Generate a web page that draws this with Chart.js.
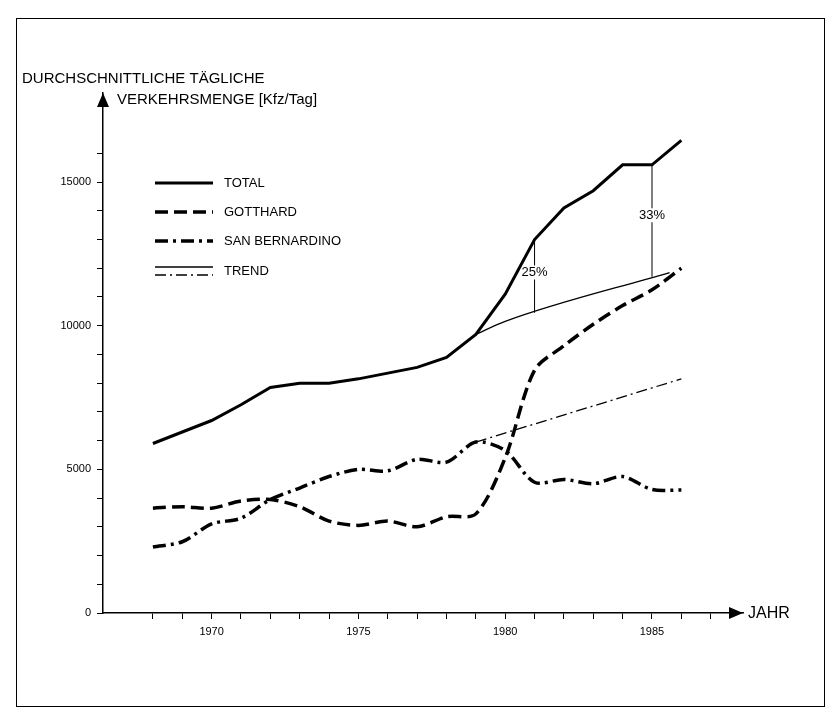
<!DOCTYPE html>
<html>
<head>
<meta charset="utf-8">
<script src="https://cdn.jsdelivr.net/npm/chart.js@4.4.1/dist/chart.umd.min.js"></script>
<style>
  html, body { margin: 0; padding: 0; background: #fff; }
  canvas { display: block; }
</style>
</head>
<body>
<canvas id="chart" width="828" height="712"></canvas>
<script>
// values
const years = [1968, 1969, 1970, 1971, 1972, 1973, 1974, 1975, 1976, 1977,
               1978, 1979, 1980, 1981, 1982, 1983, 1984, 1985, 1986];
const total = [5900, 6300, 6700, 7250, 7850, 8000, 8000, 8150, 8350, 8550,
               8900, 9700, 11100, 13000, 14100, 14700, 15600, 15600, 16450];
const gotthard = [3650, 3700, 3650, 3900, 3950, 3700, 3200, 3050, 3200, 3000,
                  3350, 3450, 5400, 8450, 9300, 10050, 10700, 11250, 12000];
const sanBernardino = [2300, 2480, 3100, 3300, 3950, 4350, 4750, 5000, 4950, 5350,
                       5250, 5950, 5650, 4550, 4650, 4500, 4750, 4300, 4280];
const trendTotalYears = [1979, 1980, 1985.6];
const trendTotal = [9700, 10150, 11850];
const trendSBYears = [1979, 1986];
const trendSB = [5950, 8150];
const pctYears = [1981, 1985];
const pctLow = [10450, 11700];   // trend value at that year
const pctLabels = ['25%', '33%'];
const legendLabels = ['TOTAL', 'GOTTHARD', 'SAN BERNARDINO', 'TREND'];
const titleLines = ['DURCHSCHNITTLICHE TÄGLICHE', 'VERKEHRSMENGE [Kfz/Tag]'];
const xAxisTitle = 'JAHR';

const pts = (xs, ys) => xs.map((x, i) => ({x: x, y: ys[i]}));
const pctData = [];
pctYears.forEach((yr, i) => {
  pctData.push({x: yr, y: pctLow[i]}, {x: yr, y: total[years.indexOf(yr)]}, {x: yr, y: null});
});

const FONT = "'Liberation Sans', Arial, sans-serif";

const decor = {
  id: 'decor',
  afterDraw(chart) {
    const {ctx, chartArea, scales} = chart;
    ctx.save();
    // frame of the scanned page
    ctx.strokeStyle = '#000';
    ctx.lineWidth = 1;
    ctx.strokeRect(16.5, 18.5, 808, 688);

    // axis arrows
    ctx.fillStyle = '#000';
    const l = chartArea.left, b = chartArea.bottom;
    ctx.beginPath();
    ctx.moveTo(l, chartArea.top);
    ctx.lineTo(l - 6, chartArea.top + 14);
    ctx.lineTo(l + 6, chartArea.top + 14);
    ctx.closePath();
    ctx.fill();
    ctx.beginPath();
    ctx.moveTo(chartArea.right, b);
    ctx.lineTo(chartArea.right - 14, b - 6);
    ctx.lineTo(chartArea.right - 14, b + 6);
    ctx.closePath();
    ctx.fill();

    // axis titles
    ctx.font = '15px ' + FONT;
    ctx.textBaseline = 'alphabetic';
    ctx.textAlign = 'left';
    ctx.fillText(titleLines[0], 22, 83);
    ctx.fillText(titleLines[1], l + 14, 104);
    ctx.font = '16px ' + FONT;
    ctx.textBaseline = 'middle';
    ctx.fillText(xAxisTitle, chartArea.right + 5, b + 1);

    // percentage labels next to the vertical gap lines
    ctx.font = '13px ' + FONT;
    ctx.textAlign = 'center';
    pctYears.forEach((yr, i) => {
      const x = scales.x.getPixelForValue(yr);
      const yTop = scales.y.getPixelForValue(total[years.indexOf(yr)]);
      const yBot = scales.y.getPixelForValue(pctLow[i]);
      const ym = yTop + (yBot - yTop) * 0.45;
      ctx.fillStyle = '#fff';
      ctx.fillRect(x - 12, ym - 7, 24, 14);
      ctx.fillStyle = '#000';
      ctx.fillText(pctLabels[i], x, ym);
    });

    // legend
    const ds = chart.data.datasets;
    const lx0 = 155, lx1 = 213, tx = 224;
    const rows = [183, 212, 241, 271];
    ctx.textAlign = 'left';
    ctx.font = '13px ' + FONT;
    [0, 1, 2].forEach(i => {
      ctx.strokeStyle = '#000';
      ctx.lineWidth = ds[i].borderWidth;
      ctx.setLineDash(ds[i].borderDash || []);
      ctx.beginPath();
      ctx.moveTo(lx0, rows[i]);
      ctx.lineTo(lx1, rows[i]);
      ctx.stroke();
      ctx.setLineDash([]);
      ctx.fillText(legendLabels[i], tx, rows[i]);
    });
    ctx.lineWidth = ds[3].borderWidth;
    ctx.beginPath();
    ctx.moveTo(lx0, rows[3] - 4);
    ctx.lineTo(lx1, rows[3] - 4);
    ctx.stroke();
    ctx.setLineDash(ds[4].borderDash);
    ctx.beginPath();
    ctx.moveTo(lx0, rows[3] + 4);
    ctx.lineTo(lx1, rows[3] + 4);
    ctx.stroke();
    ctx.setLineDash([]);
    ctx.fillText(legendLabels[3], tx, rows[3]);
    ctx.restore();
  }
};

new Chart(document.getElementById('chart'), {
  type: 'line',
  data: {
    datasets: [
      {label: 'TOTAL', data: pts(years, total), borderColor: '#000', borderWidth: 3, tension: 0},
      {label: 'GOTTHARD', data: pts(years, gotthard), borderColor: '#000', borderWidth: 3.5,
       borderDash: [13, 6], tension: 0.3},
      {label: 'SAN BERNARDINO', data: pts(years, sanBernardino), borderColor: '#000', borderWidth: 3.5,
       borderDash: [13, 5, 3, 5], tension: 0.3},
      {label: 'TREND', data: pts(trendTotalYears, trendTotal), borderColor: '#000', borderWidth: 1.3,
       cubicInterpolationMode: 'monotone'},
      {label: 'TREND SB', data: pts(trendSBYears, trendSB), borderColor: '#000', borderWidth: 1.3,
       borderDash: [11, 4, 2, 4]},
      {label: 'gap', data: pctData, borderColor: '#000', borderWidth: 1, spanGaps: false}
    ]
  },
  options: {
    responsive: false,
    animation: false,
    layout: {padding: {left: 0, top: 93, right: 85, bottom: 0}},
    elements: {point: {radius: 0}},
    plugins: {legend: {display: false}, tooltip: {enabled: false}},
    scales: {
      x: {
        type: 'linear', min: 1966.3, max: 1988.1,
        afterBuildTicks: s => {
          const t = [];
          for (let y = 1968; y <= 1987; y++) t.push({value: y});
          s.ticks = t;
        },
        afterFit: s => { s.height = 99; },
        grid: {drawOnChartArea: false, color: '#000', tickLength: 6},
        border: {color: '#000', width: 1.5},
        ticks: {
          color: '#000', font: {family: FONT, size: 11}, padding: 6,
          maxRotation: 0, autoSkip: false,
          callback: v => (v % 5 === 0 ? String(v) : '')
        }
      },
      y: {
        min: 0, max: 18100,
        afterBuildTicks: s => {
          const t = [];
          for (let v = 0; v <= 16000; v += 1000) t.push({value: v});
          s.ticks = t;
        },
        afterFit: s => { s.width = 103; },
        grid: {drawOnChartArea: false, color: '#000', tickLength: 6},
        border: {color: '#000', width: 1.5},
        ticks: {
          color: '#000', font: {family: FONT, size: 11}, padding: 6,
          autoSkip: false,
          callback: v => (v % 5000 === 0 ? String(v) : '')
        }
      }
    }
  },
  plugins: [decor]
});
</script>
</body>
</html>
